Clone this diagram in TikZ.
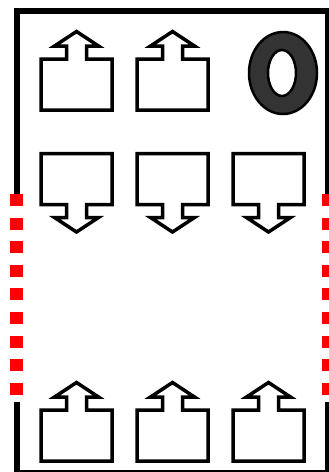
\documentclass[tikz,border=0pt]{standalone}
\usepackage{tikz}

\begin{document}
\begin{tikzpicture}[x=1pt, y=-1pt,
    wall/.style={line width=6pt},
    opening/.style={red, line width=13pt, dash pattern=on 12pt off 11.6pt},
    outlet/.pic={
      \draw[line width=3.5pt, fill=white] (-35.5,-25.5) -- (-10,-25.5) -- (-10,-38.5)
        -- (-22,-38.5) -- (0,-53) -- (22,-38.5) -- (10,-38.5) -- (10,-25.5)
        -- (35.5,-25.5) -- (35.5,25.5) -- (-35.5,25.5) -- cycle;
    }]
      \useasboundingbox (0,0) rectangle (329,472);
      \clip (0,0) rectangle (329,472);

      % Muri
      \draw[wall] (17,194) -- (17,11) -- (328,11) -- (328,194);
      \draw[wall] (17,402) -- (17,473) -- (328,473) -- (328,402);

      % Aperture
      \draw[opening] (16.5,194) -- (16.5,396);
      \draw[opening] (328,194) -- (328,396);

      % Fila superiore
      \pic at (76.5,84.5) {outlet};
      \pic at (172.5,84.5) {outlet};
      \draw[line width=2.5pt, fill=black!80, even odd rule]
        (283,73) ellipse [x radius=34, y radius=41]
        (282,73) ellipse [x radius=14, y radius=23];

      % Fila centrale
      \pic[rotate=180] at (76.5,179) {outlet};
      \pic[rotate=180] at (172.5,179) {outlet};
      \pic[rotate=180] at (268.5,179) {outlet};

      % Fila inferiore
      \pic at (76.5,435.5) {outlet};
      \pic at (172.5,435.5) {outlet};
      \pic at (268.5,435.5) {outlet};
    \end{tikzpicture}
\end{document}
